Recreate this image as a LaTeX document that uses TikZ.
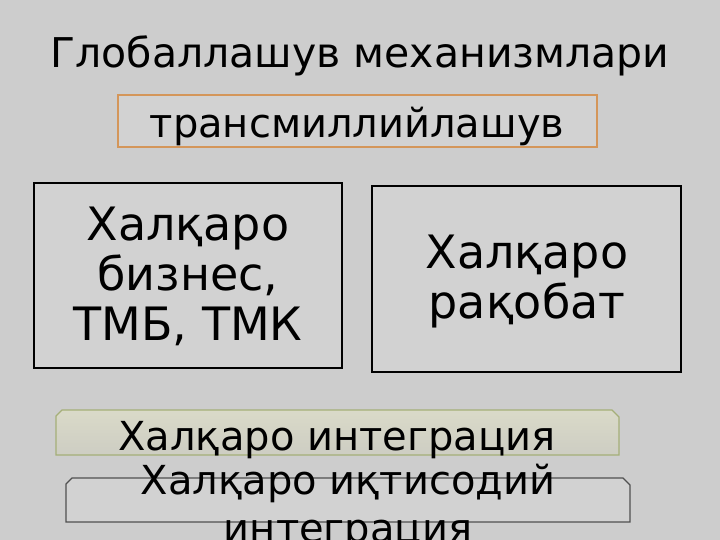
\documentclass[tikz,border=0pt]{standalone}
\usepackage{fontspec}
\setmainfont{DejaVu Sans}
\definecolor{bgc}{RGB}{205,205,205}
\definecolor{boxc}{RGB}{210,210,210}
\definecolor{orangec}{RGB}{212,150,90}
\definecolor{olivec}{RGB}{165,175,120}
\definecolor{ytop}{RGB}{218,218,200}
\definecolor{ybot}{RGB}{205,205,195}
\definecolor{darkb}{RGB}{80,80,80}
\tikzset{
  bigtxt/.style={font=\fontsize{40}{48}\selectfont, text=black, anchor=base, inner sep=0pt},
  boxtxt/.style={font=\fontsize{46}{50}\selectfont, text=black, anchor=base, inner sep=0pt, align=center},
  blackbox/.style={draw=black, line width=1.6pt, fill=boxc},
}
\begin{document}
\begin{tikzpicture}[x=1pt,y=-1pt]
\fill[bgc] (0,0) rectangle (720,540);
\useasboundingbox (0,0) rectangle (720,540);
\node[bigtxt, font=\fontsize{41}{48}\selectfont] (title) at (360,68) {Глобаллашув механизмлари};
\draw[orangec, line width=1.2pt, fill=boxc] (118,95) rectangle (597,147);
\node[bigtxt] (trans) at (357,138) {трансмиллийлашув};
\draw[blackbox] (34,183) rectangle (342,368);
\node[boxtxt] (biz) at (188,340) {Халқаро\\бизнес,\\ТМБ, ТМК};
\draw[blackbox] (372,186) rectangle (681,372);
\node[boxtxt] (rak) at (527,318) {Халқаро\\рақобат};
\draw[olivec, line width=1.2pt, top color=ytop, bottom color=ybot]
  (62,410) -- (612,410) -- (619,417) -- (619,455) -- (56,455) -- (56,416) -- cycle;
\node[bigtxt] (int) at (337,450) {Халқаро интеграция};
\draw[darkb, line width=1.2pt, fill=boxc]
  (72,478) -- (623,478) -- (630,485) -- (630,522) -- (66,522) -- (66,484) -- cycle;
\node[bigtxt, align=center] (iqt) at (348,542) {Халқаро иқтисодий\\интеграция};
\end{tikzpicture}
\end{document}
